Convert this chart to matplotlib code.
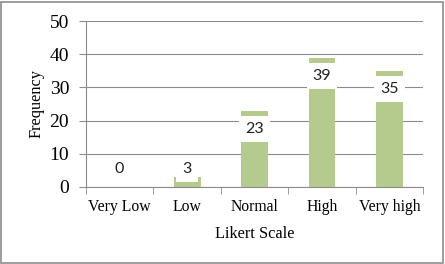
import matplotlib
matplotlib.use("Agg")
import matplotlib.pyplot as plt
from matplotlib.patches import Rectangle

categories = ["Very Low", "Low", "Normal", "High", "Very high"]
frequency = [0, 3, 23, 39, 35]
y_ticks = [0, 10, 20, 30, 40, 50]

BAR_COLOR = "#b5ca8d"
GRID_COLOR = "#8c8c8c"


def main():
    plt.rcParams["font.family"] = ["Liberation Serif", "DejaVu Serif"]

    fig = plt.figure(figsize=(4.45, 2.64), dpi=100)
    ax = fig.add_axes([0.193, 0.292, 0.758, 0.628])

    x = list(range(len(categories)))
    ax.bar(x, frequency, width=0.4, color=BAR_COLOR, zorder=2)

    # value labels sit inside the bar top on a white box, like the Excel original
    for xi, v in zip(x, frequency):
        ypos = max(v - 5.6, 5.3)
        ax.text(xi, ypos, str(v), ha="center", va="center", fontsize=11.5,
                family=["Lato", "DejaVu Sans"], color="#222222", zorder=3,
                bbox=dict(boxstyle="square,pad=0.38", fc="white", ec="none"))

    ax.set_xlim(-0.5, len(categories) - 0.5)
    ax.set_ylim(0, 50)
    ax.set_yticks(y_ticks)
    ax.set_xticks(x)
    ax.set_xticklabels(categories, fontsize=11.3)
    ax.set_xticks([i - 0.5 for i in range(len(categories) + 1)], minor=True)
    ax.tick_params(axis="x", which="major", length=0, pad=9)
    ax.tick_params(axis="x", which="minor", length=5, color=GRID_COLOR, direction="out")
    ax.tick_params(axis="y", length=5, color=GRID_COLOR, labelsize=14, pad=7)

    ax.yaxis.grid(True, color=GRID_COLOR, linewidth=0.8, zorder=0)
    ax.set_axisbelow(True)
    for side in ["top", "right"]:
        ax.spines[side].set_visible(False)
    for side in ["left", "bottom"]:
        ax.spines[side].set_color(GRID_COLOR)
        ax.spines[side].set_linewidth(0.8)

    ax.set_ylabel("Frequency", fontsize=11.7)
    ax.set_xlabel("Likert Scale", fontsize=11.7)
    ax.yaxis.set_label_coords(-0.124, 0.5)
    ax.xaxis.set_label_coords(0.5, -0.235)

    # grey frame around the whole chart
    fig.patches.append(Rectangle((0.002, 0.004), 0.994, 0.99, transform=fig.transFigure,
                                 fill=False, edgecolor="#8c8c8c", linewidth=1.2))

    fig.savefig("out.png", dpi=100)


if __name__ == "__main__":
    main()
